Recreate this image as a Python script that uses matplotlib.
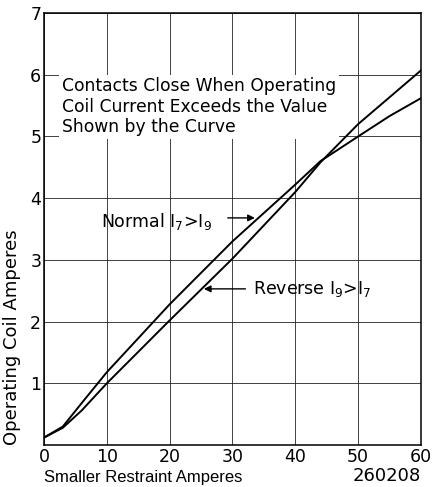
import matplotlib
matplotlib.use('Agg')
import matplotlib.pyplot as plt

# curve points
normal_x = [0, 3, 6, 10, 20, 30, 40, 44, 50, 55, 60]
normal_y = [0.12, 0.3, 0.68, 1.18, 2.28, 3.3, 4.22, 4.6, 5.0, 5.33, 5.62]
reverse_x = [0, 3, 6, 10, 20, 30, 40, 44, 50, 60]
reverse_y = [0.12, 0.28, 0.56, 1.0, 2.02, 3.02, 4.1, 4.58, 5.2, 6.07]

x_ticks = [0, 10, 20, 30, 40, 50, 60]
y_ticks = [1, 2, 3, 4, 5, 6, 7]

plt.rcParams['font.family'] = ['DejaVu Sans']

fig = plt.figure(figsize=(4.34, 4.87), dpi=100)
ax = fig.add_axes([0.1014, 0.0862, 0.8686, 0.8871])

ax.plot(normal_x, normal_y, color='black', lw=1.4)
ax.plot(reverse_x, reverse_y, color='black', lw=1.4)

ax.set_xlim(0, 60)
ax.set_ylim(0, 7)
ax.set_xticks(x_ticks)
ax.set_yticks(y_ticks)
ax.tick_params(length=0, labelsize=12.5, pad=2)
ax.grid(True, color='#222222', lw=0.6)
ax.set_axisbelow(True)
for sp in ax.spines.values():
    sp.set_linewidth(1.1)

ax.text(2.9, 5.48, 'Contacts Close When Operating\nCoil Current Exceeds the Value\nShown by the Curve',
        fontsize=12.3, linespacing=1.18, va='center', ha='left',
        bbox=dict(facecolor='white', edgecolor='none', pad=2))

# curve labels with arrows
ax.annotate('', xy=(34, 3.68), xytext=(28.8, 3.68),
            arrowprops=dict(arrowstyle='-|>', color='black', lw=1, mutation_scale=10))
ax.text(9.1, 3.62, r'Normal I$_\mathregular{7}$>I$_\mathregular{9}$', fontsize=12.5,
        va='center', ha='left')
ax.annotate('', xy=(25, 2.53), xytext=(32.5, 2.53),
            arrowprops=dict(arrowstyle='-|>', color='black', lw=1, mutation_scale=10))
ax.text(33.3, 2.53, r'Reverse I$_\mathregular{9}$>I$_\mathregular{7}$', fontsize=12.5,
        va='center', ha='left')

ax.set_ylabel('Operating Coil Amperes', fontsize=13)
ax.yaxis.set_label_coords(-0.062, 0.25)
fig.text(0.1014, 0.004, 'Smaller Restraint Amperes', fontsize=12, family='Liberation Sans',
         ha='left', va='bottom')
fig.text(0.97, 0.004, '260208', fontsize=13, ha='right', va='bottom')

fig.savefig('out.png', dpi=100)
